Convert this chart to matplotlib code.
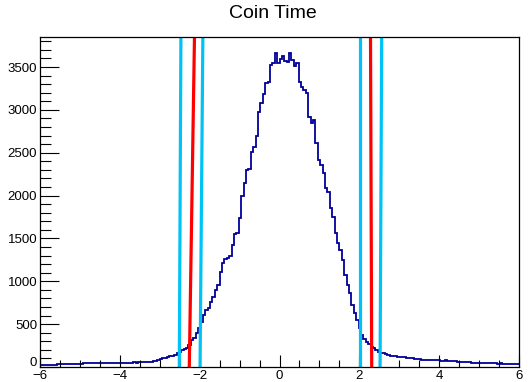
import numpy as np
import matplotlib
matplotlib.use('Agg')
import matplotlib.pyplot as plt
from matplotlib.ticker import MultipleLocator, FuncFormatter

plt.rcParams['font.family'] = ['Liberation Sans', 'DejaVu Sans']

# histogram range and binning (200 bins from -6 to 6)
x_min, x_max, n_bins = -6.0, 6.0, 200

# bin contents, left to right
counts = [
    24, 22, 25, 23, 27, 26, 28, 30, 31,
    33, 32, 35, 34, 36, 37, 38, 39,
    40, 41, 42, 43, 41, 44, 43, 42, 45, 43, 44, 46, 44, 45, 47, 48, 49,
    50, 51, 49, 52, 51, 53, 52, 54,
    56, 55, 58, 60, 62, 65, 72, 80,
    90, 100, 110, 120, 125, 130, 145, 160, 180, 200,
    210, 220, 260, 315, 340, 400, 455, 530, 610, 665,
    690, 760, 820, 900, 960, 1110, 1210, 1265, 1270, 1290,
    1420, 1550, 1560, 1740, 2000, 2150, 2300, 2310, 2510, 2570,
    2690, 2980, 3080, 3180, 3310, 3320, 3520, 3545, 3660, 3545,
    3590, 3630, 3565, 3560, 3660, 3585, 3510, 3545, 3330, 3270,
    3230, 3195, 2920, 2845, 2880, 2610, 2415, 2360, 2260, 2085,
    2045, 1850, 1755, 1560, 1445, 1365, 1250, 1075, 960, 860,
    725, 625, 550, 450, 375, 325, 295, 268, 237, 218,
    198, 178, 160, 158, 150, 140, 130, 128, 125, 120,
    118, 115, 112, 110, 105, 101,
    98, 95, 90, 85, 82, 84, 80, 82, 86, 80,
    78, 75, 74, 76, 72, 70, 68, 66, 62, 62,
    60, 58, 55, 54, 52, 50, 50, 48, 46, 45,
    43, 44, 42, 43, 42, 40, 41, 38, 40, 37, 36, 35, 36, 34,
]

# cut lines (x at bottom and at top of the frame, they lean slightly)
cut_bottom = [-2.51, -2.26, -1.99, 2.02, 2.31, 2.52]
cut_top = [-2.47, -2.13, -1.92, 2.02, 2.28, 2.56]
cut_colors = ['#00c3f5', '#ff0000', '#00c3f5', '#00c3f5', '#ff0000', '#00c3f5']

y_max = 3850

fig = plt.figure(figsize=(5.28, 3.82), dpi=100)
ax = fig.add_axes([40 / 528, 1 - 367 / 382, 479 / 528, 330 / 382])

edges = np.linspace(x_min, x_max, n_bins + 1)
ax.stairs(counts, edges, color='#000099', linewidth=1.3, baseline=None)

for xb, xt, c in zip(cut_bottom, cut_top, cut_colors):
    ax.plot([xb, xt], [0, y_max], color=c, linewidth=2.3, solid_capstyle='butt')

ax.set_xlim(x_min, x_max)
ax.set_ylim(0, y_max)

ax.xaxis.set_major_locator(MultipleLocator(2))
ax.xaxis.set_minor_locator(MultipleLocator(0.5))
ax.yaxis.set_major_locator(MultipleLocator(500))
ax.yaxis.set_minor_locator(MultipleLocator(100))
# the "0" label is drawn separately a bit higher, as ROOT does
ax.yaxis.set_major_formatter(FuncFormatter(lambda v, p: '' if v == 0 else '%d' % v))

ax.tick_params(axis='both', which='both', direction='in', top=False, right=False,
               labelsize=9.5, width=0.8)
ax.tick_params(axis='x', which='major', length=9, pad=2)
ax.tick_params(axis='x', which='minor', length=5)
ax.tick_params(axis='y', which='major', length=14, pad=2)
ax.tick_params(axis='y', which='minor', length=8)
for s in ax.spines.values():
    s.set_linewidth(0.9)

ax.annotate('0', xy=(0, 0), xycoords=('axes fraction', 'data'), xytext=(-2.5, 3),
            textcoords='offset points', ha='right', va='center', fontsize=9.5)

fig.text(273 / 528, 1 - 14 / 382, 'Coin Time', ha='center', va='center', fontsize=14)

fig.savefig('out.png', dpi=100)
